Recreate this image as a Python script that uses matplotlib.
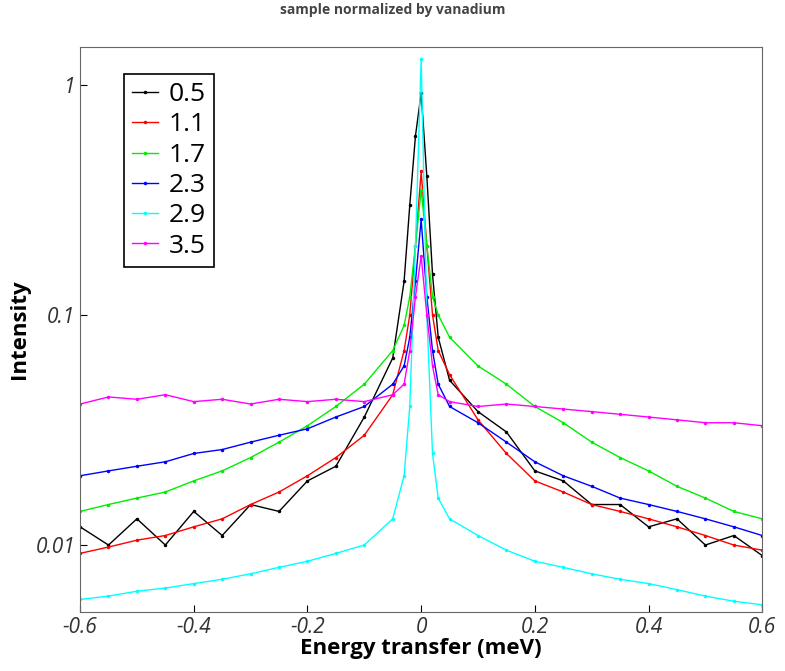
import matplotlib
matplotlib.use("Agg")
import matplotlib.pyplot as plt
from matplotlib.ticker import FixedLocator, NullLocator

# Energy transfer grid (meV), denser around the elastic peak
energy = [-0.6, -0.55, -0.5, -0.45, -0.4, -0.35, -0.3, -0.25, -0.2, -0.15, -0.1, -0.05,
          -0.03, -0.02, -0.01, 0.0, 0.01, 0.02, 0.03,
          0.05, 0.1, 0.15, 0.2, 0.25, 0.3, 0.35, 0.4, 0.45, 0.5, 0.55, 0.6]

q_labels = ["0.5", "1.1", "1.7", "2.3", "2.9", "3.5"]
colors = ["black", "red", "#00ee00", "blue", "cyan", "magenta"]

i_05 = [0.012, 0.010, 0.013, 0.010, 0.014, 0.011, 0.015, 0.014, 0.019, 0.022, 0.036, 0.065,
        0.14, 0.30, 0.60, 0.92, 0.40, 0.15, 0.08,
        0.052, 0.038, 0.031, 0.021, 0.019, 0.015, 0.015, 0.012, 0.013, 0.010, 0.011, 0.009]
i_11 = [0.0092, 0.0098, 0.0105, 0.011, 0.012, 0.013, 0.015, 0.017, 0.020, 0.024, 0.030, 0.045,
        0.07, 0.10, 0.20, 0.42, 0.20, 0.10, 0.07,
        0.055, 0.035, 0.025, 0.019, 0.017, 0.015, 0.014, 0.013, 0.012, 0.011, 0.010, 0.0095]
i_17 = [0.014, 0.015, 0.016, 0.017, 0.019, 0.021, 0.024, 0.028, 0.033, 0.040, 0.050, 0.070,
        0.09, 0.12, 0.20, 0.35, 0.20, 0.12, 0.10,
        0.080, 0.060, 0.050, 0.040, 0.034, 0.028, 0.024, 0.021, 0.018, 0.016, 0.014, 0.013]
i_23 = [0.020, 0.021, 0.022, 0.023, 0.025, 0.026, 0.028, 0.030, 0.032, 0.036, 0.040, 0.050,
        0.06, 0.08, 0.14, 0.26, 0.12, 0.07, 0.05,
        0.040, 0.034, 0.028, 0.023, 0.020, 0.018, 0.016, 0.015, 0.014, 0.013, 0.012, 0.011]
i_29 = [0.0058, 0.006, 0.0063, 0.0065, 0.0068, 0.0071, 0.0075, 0.008, 0.0085, 0.0092, 0.010, 0.013,
        0.020, 0.040, 0.20, 1.30, 0.10, 0.025, 0.016,
        0.013, 0.011, 0.0095, 0.0085, 0.008, 0.0075, 0.0071, 0.0068, 0.0064, 0.006, 0.0057, 0.0055]
i_35 = [0.041, 0.044, 0.043, 0.045, 0.042, 0.043, 0.041, 0.043, 0.042, 0.043, 0.042, 0.045,
        0.05, 0.07, 0.12, 0.18, 0.10, 0.06, 0.045,
        0.042, 0.040, 0.041, 0.040, 0.039, 0.038, 0.037, 0.036, 0.035, 0.034, 0.034, 0.033]
intensities = [i_05, i_11, i_17, i_23, i_29, i_35]

plt.rcParams["font.family"] = ["Open Sans", "DejaVu Sans"]
fig = plt.figure(figsize=(7.85, 6.71), dpi=100)
ax = fig.add_axes([0.102, 0.088, 0.869, 0.842])

for lab, c, y in zip(q_labels, colors, intensities):
    ax.plot(energy, y, color=c, lw=1, marker=".", markersize=3, label=lab)

ax.set_yscale("log")
ax.set_xlim(-0.6, 0.6)
ax.set_ylim(0.00512, 1.46)
ax.yaxis.set_major_locator(FixedLocator([0.01, 0.1, 1]))
ax.yaxis.set_minor_locator(NullLocator())
ax.set_yticklabels(["0.01", "0.1", "1"], fontsize=15, style="italic", color="#333333")
ax.set_xticks([-0.6, -0.4, -0.2, 0, 0.2, 0.4, 0.6])
ax.set_xticklabels(["-0.6", "-0.4", "-0.2", "0", "0.2", "0.4", "0.6"],
                   fontsize=15, style="italic", color="#333333")
ax.tick_params(direction="in", length=5)
for s in ax.spines.values():
    s.set_color("#666666")

ax.set_xlabel("Energy transfer (meV)", fontsize=16, fontweight="bold", labelpad=0)
ax.set_ylabel("Intensity", fontsize=16, fontweight="bold")
fig.suptitle("sample normalized by vanadium", fontsize=10, fontweight="bold",
             color="#444444", y=0.995)

leg = ax.legend(loc="upper left", bbox_to_anchor=(0.045, 0.975), fontsize=19,
                fancybox=False, edgecolor="black", framealpha=1,
                handlelength=1.0, handletextpad=0.4, borderpad=0.3, labelspacing=0.2)
leg.get_frame().set_linewidth(1.2)

fig.savefig("out.png", dpi=100)
